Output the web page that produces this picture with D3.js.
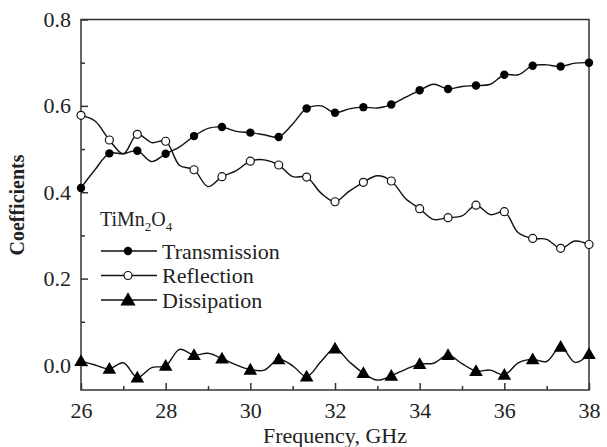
<!DOCTYPE html>
<html>
<head>
<meta charset="utf-8">
<script src="https://cdn.jsdelivr.net/npm/d3@7"></script>
<style>
  html, body { margin: 0; padding: 0; background: #fff; }
  svg { display: block; }
</style>
</head>
<body>
<svg id="chart" width="607" height="447" font-family="Liberation Serif"></svg>
<script>
// ---- data ----
const frequency = [26.00, 26.33, 26.67, 27.00, 27.33, 27.67, 28.00, 28.33, 28.67, 29.00,
                   29.33, 29.67, 30.00, 30.33, 30.67, 31.00, 31.33, 31.67, 32.00, 32.33,
                   32.67, 33.00, 33.33, 33.67, 34.00, 34.33, 34.67, 35.00, 35.33, 35.67,
                   36.00, 36.33, 36.67, 37.00, 37.33, 37.67, 38.00];
const transmission = [0.410, 0.452, 0.490, 0.489, 0.496, 0.471, 0.489, 0.505, 0.530, 0.548,
                      0.551, 0.541, 0.538, 0.533, 0.528, 0.558, 0.594, 0.600, 0.584, 0.593,
                      0.597, 0.595, 0.603, 0.620, 0.636, 0.650, 0.639, 0.645, 0.647, 0.650,
                      0.672, 0.672, 0.693, 0.695, 0.691, 0.699, 0.700];
const reflection = [0.578, 0.565, 0.521, 0.489, 0.534, 0.515, 0.518, 0.462, 0.452, 0.413,
                    0.436, 0.450, 0.472, 0.475, 0.463, 0.436, 0.435, 0.398, 0.378, 0.402,
                    0.423, 0.438, 0.426, 0.385, 0.362, 0.337, 0.341, 0.345, 0.370, 0.348,
                    0.355, 0.306, 0.293, 0.291, 0.270, 0.287, 0.279];
const dissipation = [0.009, 0.000, -0.009, 0.005, -0.029, -0.006, -0.002, 0.036, 0.023, 0.027,
                     0.015, 0.000, -0.011, -0.012, 0.013, -0.002, -0.027, 0.008, 0.038, 0.008,
                     -0.019, -0.035, -0.025, -0.010, 0.002, 0.004, 0.023, 0.003, -0.014, -0.012,
                     -0.023, 0.005, 0.013, 0.008, 0.042, 0.006, 0.025];
const xTicks = [26, 28, 30, 32, 34, 36, 38];
const xMinorTicks = [27, 29, 31, 33, 35, 37];
const yTicks = [0.0, 0.2, 0.4, 0.6, 0.8];
const yMinorTicks = [0.1, 0.3, 0.5, 0.7];
const seriesNames = ["Transmission", "Reflection", "Dissipation"];

// ---- layout ----
const FONT = "Liberation Serif";
const svg = d3.select("#chart");
const mLeft = 81, mRight = 589, mTop = 19.5, mBottom = 390;
const x = d3.scaleLinear().domain([26, 38]).range([mLeft, mRight]);
const y = d3.scaleLinear().domain([-0.058, 0.8]).range([mBottom, mTop]);
const axisColor = "#333";

// frame
svg.append("rect")
  .attr("x", mLeft).attr("y", mTop)
  .attr("width", mRight - mLeft).attr("height", mBottom - mTop)
  .attr("fill", "none").attr("stroke", axisColor).attr("stroke-width", 1.5);

// axes (ticks inward)
const xAxis = svg.append("g").attr("transform", `translate(0,${mBottom})`)
  .call(d3.axisBottom(x).tickValues(xTicks).tickSize(-7).tickPadding(12).tickFormat(d3.format("d")));
const xMinor = svg.append("g").attr("transform", `translate(0,${mBottom})`)
  .call(d3.axisBottom(x).tickValues(xMinorTicks).tickSize(-4).tickFormat(""));
const yAxis = svg.append("g").attr("transform", `translate(${mLeft},0)`)
  .call(d3.axisLeft(y).tickValues(yTicks).tickSize(-7).tickPadding(10).tickFormat(d3.format(".1f")));
const yMinor = svg.append("g").attr("transform", `translate(${mLeft},0)`)
  .call(d3.axisLeft(y).tickValues(yMinorTicks).tickSize(-4).tickFormat(""));
[xAxis, xMinor, yAxis, yMinor].forEach(g => {
  g.attr("font-family", FONT).attr("font-size", 22);
  g.select(".domain").remove();
  g.selectAll("line").attr("stroke", axisColor).attr("stroke-width", 1.5);
  g.selectAll("text").attr("font-size", 22).attr("fill", "#222").attr("font-family", FONT);
});

// axis titles
svg.append("text").attr("x", (mLeft + mRight) / 2).attr("y", 443)
  .attr("text-anchor", "middle").attr("font-size", 22).attr("font-family", FONT)
  .attr("fill", "#222").text("Frequency, GHz");
svg.append("text")
  .attr("transform", `translate(24,205) rotate(-90)`)
  .attr("text-anchor", "middle").attr("font-size", 20).attr("font-weight", "bold")
  .attr("font-family", FONT).attr("fill", "#222")
  .text("Coefficients");

// ---- series ----
const line = d3.line().x(d => x(d[0])).y(d => y(d[1])).curve(d3.curveCatmullRom.alpha(0.5));
const seriesData = [transmission, reflection, dissipation].map(vals => frequency.map((f, i) => [f, vals[i]]));
const tri = d3.symbol().type(d3.symbolTriangle).size(80);
const triLegend = d3.symbol().type(d3.symbolTriangle).size(100);

function drawMarker(g, type, cx, cy, legend) {
  if (type === 0) {
    g.append("circle").attr("cx", cx).attr("cy", cy).attr("r", 4.2).attr("fill", "#000");
  } else if (type === 1) {
    g.append("circle").attr("cx", cx).attr("cy", cy).attr("r", 4).attr("fill", "#fff")
      .attr("stroke", "#111").attr("stroke-width", 1.2);
  } else {
    g.append("path").attr("d", legend ? triLegend() : tri())
      .attr("transform", `translate(${cx},${cy + 1})`).attr("fill", "#000");
  }
}

const plot = svg.append("g");
seriesData.forEach((data) => {
  plot.append("path").datum(data).attr("d", line)
    .attr("fill", "none").attr("stroke", "#111").attr("stroke-width", 1.4);
});
seriesData.forEach((data, si) => {
  data.forEach((d, i) => {
    if (i % 2 === 0) drawMarker(plot, si, x(d[0]), y(d[1]), false);
  });
});

// ---- legend ----
const lg = svg.append("g").attr("font-family", FONT).attr("fill", "#222");
const sampleText = lg.append("text").attr("x", 100).attr("y", 226).attr("font-size", 20);
sampleText.append("tspan").text("TiMn");
sampleText.append("tspan").attr("font-size", 13).attr("dy", 5).text("2");
sampleText.append("tspan").attr("dy", -5).text("O");
sampleText.append("tspan").attr("font-size", 13).attr("dy", 5).text("4");
const rowY = [251, 275.5, 300];
seriesNames.forEach((name, i) => {
  lg.append("line").attr("x1", 101).attr("x2", 157).attr("y1", rowY[i]).attr("y2", rowY[i])
    .attr("stroke", "#111").attr("stroke-width", 1.4);
  drawMarker(lg, i, 128, rowY[i], true);
  lg.append("text").attr("x", 162).attr("y", rowY[i] + 7.5).attr("font-size", 22)
    .attr("font-family", FONT).text(name);
});
</script>
</body>
</html>
